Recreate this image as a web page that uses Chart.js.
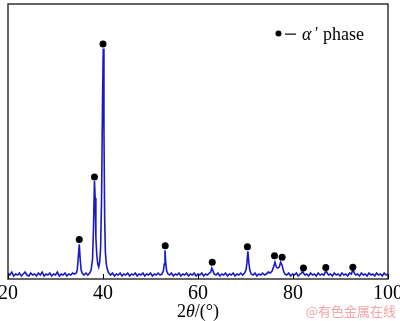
<!DOCTYPE html>
<html>
<head>
<meta charset="utf-8">
<script src="https://cdn.jsdelivr.net/npm/chart.js@4"></script>
<style>
  html, body { margin: 0; padding: 0; background: #fff; }
  canvas { display: block; }
</style>
</head>
<body>
<canvas id="xrd" width="400" height="321"></canvas>
<script>
// XRD pattern, 2theta in degrees, intensity in arbitrary units
const twoTheta = [
  20.0, 20.4, 20.8, 21.2, 21.6, 22.0, 22.4, 22.8, 23.2, 23.6, 24.0, 24.4, 24.8, 25.2, 25.6, 26.0, 26.4, 26.8,
  27.2, 27.6, 28.0, 28.4, 28.8, 29.2, 29.6, 30.0, 30.4, 30.8, 31.2, 31.6, 32.0, 32.4, 32.8, 33.2, 33.6, 34.0,
  34.4, 34.6, 34.8, 35.0, 35.2, 35.4, 35.6, 36.0, 36.4, 36.8, 37.2, 37.5, 37.8, 38.0, 38.2, 38.35, 38.5, 38.7,
  38.9, 39.1, 39.3, 39.5, 39.7, 39.9, 40.05, 40.2, 40.35, 40.5, 40.7, 40.9, 41.2, 41.6, 42.0,
  42.4, 42.8, 43.2, 43.6, 44.0, 44.4, 44.8, 45.2, 45.6, 46.0, 46.4, 46.8, 47.2, 47.6, 48.0, 48.4, 48.8, 49.2,
  49.6, 50.0, 50.4, 50.8, 51.2, 51.6, 52.0, 52.4, 52.7, 52.9, 53.05, 53.2, 53.4, 53.7, 54.0,
  54.4, 54.8, 55.2, 55.6, 56.0, 56.4, 56.8, 57.2, 57.6, 58.0, 58.4, 58.8, 59.2, 59.6, 60.0, 60.4, 60.8, 61.2,
  61.6, 62.0, 62.4, 62.7, 62.9, 63.1, 63.4, 63.8,
  64.2, 64.6, 65.0, 65.4, 65.8, 66.2, 66.6, 67.0, 67.4, 67.8, 68.2, 68.6, 69.0, 69.4, 69.8,
  70.1, 70.3, 70.5, 70.7, 70.9, 71.2, 71.6,
  72.0, 72.4, 72.8, 73.2, 73.6, 74.0, 74.4, 74.8, 75.2, 75.6,
  75.9, 76.2, 76.5, 76.8, 77.1, 77.4, 77.7, 78.0, 78.3, 78.7,
  79.1, 79.5, 79.9, 80.3, 80.7, 81.1, 81.5, 81.8, 82.0, 82.2, 82.5, 82.9, 83.3, 83.7, 84.1, 84.5, 84.9,
  85.3, 85.7, 86.1, 86.5, 86.8, 87.0, 87.2, 87.5, 87.9, 88.3, 88.7, 89.1, 89.5, 89.9, 90.3, 90.7, 91.1,
  91.5, 91.9, 92.3, 92.5, 92.7, 92.9, 93.2, 93.6, 94.0, 94.4, 94.8, 95.2, 95.6, 96.0, 96.4, 96.8, 97.2,
  97.6, 98.0, 98.4, 98.8, 99.2, 99.6, 100.0
];
const intensity = [
  6, 4, 7, 3, 5, 4, 6, 3, 5, 7, 4, 3, 6, 4, 5, 3, 6, 4,
  7, 3, 5, 4, 6, 3, 5, 4, 7, 3, 5, 4, 6, 3, 5, 4, 6, 5,
  6, 10, 22, 35, 20, 9, 6, 4, 6, 4, 6, 9, 20, 52, 99, 82, 42, 24,
  15, 12, 17, 32, 82, 180, 233, 150, 62, 27, 15, 10, 6, 4, 6,
  3, 5, 4, 6, 3, 5, 4, 6, 3, 5, 4, 6, 3, 5, 4, 6, 3, 5,
  4, 6, 3, 5, 4, 6, 4, 5, 8, 15, 29, 17, 8, 5, 4,
  6, 3, 5, 4, 6, 3, 5, 4, 6, 3, 5, 4, 6, 3, 5, 4, 6, 3,
  5, 4, 6, 7, 11, 9, 5, 4,
  6, 3, 5, 4, 6, 3, 5, 4, 6, 3, 5, 4, 6, 4, 6,
  9, 16, 28, 17, 9, 5, 4,
  6, 3, 5, 4, 6, 4, 5, 7, 6, 8,
  12, 17, 12, 11, 12, 17, 14, 8, 5, 4,
  6, 3, 5, 4, 6, 3, 5, 6, 8, 6, 4, 5, 3, 6, 4, 5, 3,
  6, 4, 5, 4, 7, 8, 6, 4, 5, 3, 6, 4, 5, 3, 6, 4, 5,
  3, 6, 5, 8, 9, 6, 4, 5, 3, 6, 4, 5, 3, 6, 4, 5, 3,
  6, 4, 5, 3, 6, 4, 5
];

// alpha' phase markers
const markAngles = [35.0, 38.2, 40.0, 53.1, 63.0, 70.4, 76.1, 77.7, 82.2, 86.9, 92.6];
const markHeights = [40, 103, 237.5, 33.5, 17, 32.5, 23.5, 22, 11, 11.5, 12];

const xTicks = [20, 40, 60, 80, 100];

const SERIF = '"Liberation Serif", "Times New Roman", serif';

// frame, inward ticks, legend, axis title, watermark
const decorations = {
  id: 'decorations',
  afterDraw(chart) {
    const { ctx, chartArea: a, scales } = chart;
    ctx.save();
    ctx.strokeStyle = '#333';
    ctx.lineWidth = 1.5;
    ctx.strokeRect(a.left, a.top, a.right - a.left, a.bottom - a.top);

    ctx.lineWidth = 1;
    ctx.strokeStyle = '#000';
    xTicks.forEach(v => {
      const x = Math.round(scales.x.getPixelForValue(v)) + 0.5;
      ctx.beginPath();
      ctx.moveTo(x, a.bottom);
      ctx.lineTo(x, a.bottom - 5);
      ctx.stroke();
    });

    // legend
    ctx.fillStyle = '#000';
    ctx.beginPath();
    ctx.arc(278.5, 33.5, 3, 0, Math.PI * 2);
    ctx.fill();
    ctx.fillRect(285, 33.5, 11, 1.2);
    ctx.textBaseline = 'alphabetic';
    ctx.textAlign = 'left';
    ctx.font = 'italic 18px ' + SERIF;
    ctx.fillText('α', 302, 40);
    ctx.font = '16px ' + SERIF;
    ctx.fillText('′', 315, 38);
    ctx.font = '18px ' + SERIF;
    ctx.fillText('phase', 323, 40);

    // x axis title: 2θ/(°)
    const parts = [['2', ''], ['θ', 'italic '], ['/(°)', '']];
    let w = 0;
    parts.forEach(p => { ctx.font = p[1] + '18px ' + SERIF; w += ctx.measureText(p[0]).width; });
    let x = 198 - w / 2;
    parts.forEach(p => {
      ctx.font = p[1] + '18px ' + SERIF;
      ctx.fillText(p[0], x, 317);
      x += ctx.measureText(p[0]).width;
    });

    // watermark
    ctx.fillStyle = '#f3a3a3';
    ctx.font = '13px "Noto Sans CJK SC", sans-serif';
    ctx.textAlign = 'right';
    ctx.fillText('@有色金属在线', 396, 316);
    ctx.restore();
  }
};

new Chart(document.getElementById('xrd'), {
  type: 'line',
  data: {
    datasets: [
      {
        data: twoTheta.map((t, i) => ({ x: t, y: intensity[i] })),
        borderColor: '#1a1ac4',
        borderWidth: 1.6,
        pointRadius: 0,
        tension: 0,
        order: 2
      },
      {
        type: 'scatter',
        data: markAngles.map((t, i) => ({ x: t, y: markHeights[i] })),
        showLine: false,
        pointRadius: 3.5,
        pointBackgroundColor: '#000',
        pointBorderWidth: 0,
        order: 1
      }
    ]
  },
  options: {
    responsive: false,
    animation: false,
    devicePixelRatio: 1,
    layout: { padding: { left: 8, right: 12, top: 1, bottom: 0 } },
    plugins: { legend: { display: false }, tooltip: { enabled: false } },
    scales: {
      x: {
        type: 'linear',
        min: 20,
        max: 100,
        afterBuildTicks: s => { s.ticks = xTicks.map(v => ({ value: v })); },
        afterFit: s => { s.height = 42; s.paddingLeft = 0; s.paddingRight = 0; },
        grid: { display: false, drawTicks: false },
        border: { display: false },
        ticks: { color: '#000', padding: 3, maxRotation: 0, font: { family: SERIF, size: 20 } }
      },
      y: {
        display: false,
        min: 0,
        max: 278
      }
    }
  },
  plugins: [decorations]
});
</script>
</body>
</html>
